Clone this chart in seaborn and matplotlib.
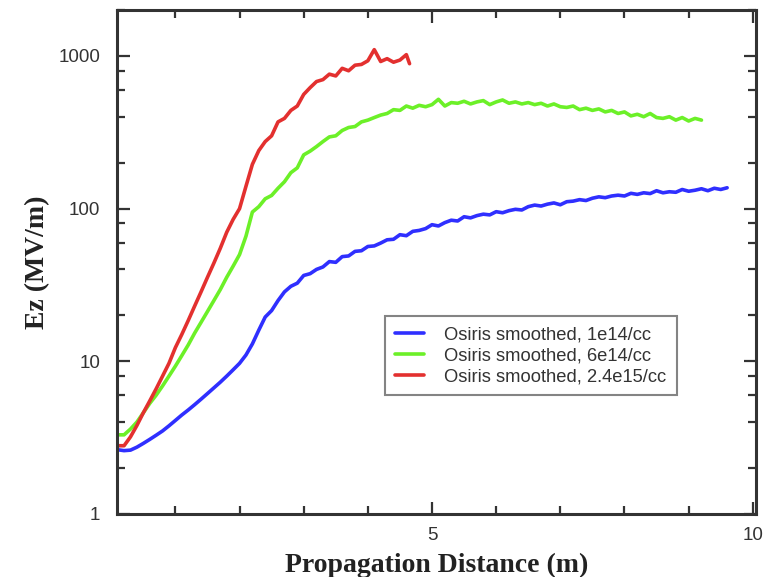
import numpy as np
import pandas as pd
import matplotlib
matplotlib.use("Agg")
import matplotlib.pyplot as plt
import seaborn as sns
from matplotlib.ticker import FixedLocator, FixedFormatter, NullFormatter

# ---------------- data ----------------
labels = ["Osiris smoothed, 1e14/cc", "Osiris smoothed, 6e14/cc", "Osiris smoothed, 2.4e15/cc"]
colors = ["#2f2fff", "#6cf028", "#e3302f"]

blue_x = [0.09, 0.2, 0.3, 0.4, 0.5, 0.6, 0.7, 0.8, 0.9, 1.0, 1.1, 1.2, 1.3, 1.4, 1.5, 1.6, 1.7, 1.8, 1.9, 2.0,
          2.1, 2.2, 2.3, 2.4, 2.5, 2.6, 2.7, 2.8, 2.9, 3.0, 3.1, 3.2, 3.3, 3.4, 3.5, 3.6, 3.7, 3.8, 3.9, 4.0,
          4.1, 4.2, 4.3, 4.4, 4.5, 4.6, 4.7, 4.8, 4.9, 5.0, 5.1, 5.2, 5.3, 5.4, 5.5, 5.6, 5.7, 5.8, 5.9, 6.0,
          6.1, 6.2, 6.3, 6.4, 6.5, 6.6, 6.7, 6.8, 6.9, 7.0, 7.1, 7.2, 7.3, 7.4, 7.5, 7.6, 7.7, 7.8, 7.9, 8.0,
          8.1, 8.2, 8.3, 8.4, 8.5, 8.6, 8.7, 8.8, 8.9, 9.0, 9.1, 9.2, 9.3, 9.4, 9.5, 9.6]
blue_y = [2.64, 2.6, 2.62, 2.74, 2.9, 3.08, 3.28, 3.5, 3.78, 4.1, 4.45, 4.8, 5.2, 5.65, 6.15, 6.7, 7.3, 8.0, 8.8, 9.7,
          11.0, 13.0, 16.0, 19.5, 21.5, 25.0, 28.5, 31.0, 32.5, 36.5, 37.5, 40.0, 41.5, 45.0, 44.5, 48.5, 49.0, 52.5, 53.0, 56.5,
          57.0, 59.5, 62.5, 63.0, 67.5, 66.5, 71.0, 72.0, 74.0, 78.5, 77.0, 81.0, 84.0, 83.0, 88.5, 87.0, 90.0, 92.0, 91.0, 95.5,
          94.0, 97.0, 99.0, 98.0, 103.0, 105.5, 104.0, 107.0, 109.0, 106.0, 111.0, 112.0, 114.5, 113.0, 117.0, 119.5, 118.0, 121.0, 122.5, 121.0,
          126.0, 124.0, 127.0, 125.5, 131.0, 127.0, 129.0, 128.0, 133.5, 130.0, 132.0, 135.0, 131.0, 136.0, 133.5, 137.0]

green_x = [0.09, 0.2, 0.3, 0.4, 0.5, 0.6, 0.7, 0.8, 0.9, 1.0, 1.1, 1.2, 1.3, 1.4, 1.5, 1.6, 1.7, 1.8, 1.9, 2.0,
           2.1, 2.2, 2.3, 2.4, 2.5, 2.6, 2.7, 2.8, 2.9, 3.0, 3.1, 3.2, 3.3, 3.4, 3.5, 3.6, 3.7, 3.8, 3.9, 4.0,
           4.1, 4.2, 4.3, 4.4, 4.5, 4.6, 4.7, 4.8, 4.9, 5.0, 5.1, 5.2, 5.3, 5.4, 5.5, 5.6, 5.7, 5.8, 5.9, 6.0,
           6.1, 6.2, 6.3, 6.4, 6.5, 6.6, 6.7, 6.8, 6.9, 7.0, 7.1, 7.2, 7.3, 7.4, 7.5, 7.6, 7.7, 7.8, 7.9, 8.0,
           8.1, 8.2, 8.3, 8.4, 8.5, 8.6, 8.7, 8.8, 8.9, 9.0, 9.1, 9.2]
green_y = [3.3, 3.3, 3.6, 4.0, 4.6, 5.3, 6.0, 6.9, 8.0, 9.3, 10.9, 12.8, 15.3, 18.0, 21.2, 25.0, 29.5, 35.5, 42.0, 50.0,
           66.0, 95.0, 103.0, 116.0, 122.0, 136.0, 150.0, 172.0, 185.0, 225.0, 238.0, 255.0, 275.0, 295.0, 300.0, 325.0, 340.0, 345.0, 370.0, 380.0,
           395.0, 410.0, 420.0, 445.0, 440.0, 470.0, 455.0, 475.0, 465.0, 480.0, 520.0, 470.0, 495.0, 490.0, 505.0, 485.0, 500.0, 510.0, 480.0, 500.0,
           515.0, 490.0, 500.0, 485.0, 495.0, 480.0, 490.0, 470.0, 485.0, 465.0, 460.0, 470.0, 445.0, 455.0, 440.0, 450.0, 430.0, 440.0, 420.0, 430.0,
           405.0, 415.0, 400.0, 420.0, 395.0, 390.0, 400.0, 380.0, 395.0, 375.0, 390.0, 380.0]

red_x = [0.09, 0.2, 0.3, 0.4, 0.5, 0.6, 0.7, 0.8, 0.9, 1.0, 1.1, 1.2, 1.3, 1.4, 1.5, 1.6, 1.7, 1.8, 1.9, 2.0,
         2.1, 2.2, 2.3, 2.4, 2.5, 2.6, 2.7, 2.8, 2.9, 3.0, 3.1, 3.2, 3.3, 3.4, 3.5, 3.6, 3.7, 3.8, 3.9, 4.0,
         4.1, 4.2, 4.3, 4.4, 4.5, 4.6, 4.65]
red_y = [2.8, 2.8, 3.2, 3.8, 4.6, 5.5, 6.6, 8.0, 9.7, 12.3, 15.0, 18.5, 23.0, 28.5, 35.5, 44.0, 55.0, 70.0, 85.0, 100.0,
         140.0, 195.0, 240.0, 275.0, 300.0, 370.0, 390.0, 440.0, 470.0, 560.0, 620.0, 680.0, 700.0, 760.0, 740.0, 830.0, 800.0, 870.0, 880.0, 930.0,
         1100.0, 920.0, 960.0, 910.0, 940.0, 1020.0, 890.0]

x_major = [5, 10]
x_minor = [1, 2, 3, 4, 6, 7, 8, 9]
y_major = [1, 10, 100, 1000]
y_major_labels = ["1", "10", "100", "1000"]
y_minor = [m * d for d in (1, 10, 100, 1000) for m in (2, 4, 6, 8)]

# ---------------- build table ----------------
df = pd.concat([
    pd.DataFrame({"x": blue_x, "y": blue_y, "series": labels[0]}),
    pd.DataFrame({"x": green_x, "y": green_y, "series": labels[1]}),
    pd.DataFrame({"x": red_x, "y": red_y, "series": labels[2]}),
], ignore_index=True)

sns.set_style("ticks")
plt.rcParams["font.family"] = ["Liberation Sans", "DejaVu Sans"]

fig = plt.figure(figsize=(7.69, 5.77), dpi=100)
ax = fig.add_axes([117 / 769, 63 / 577, 639 / 769, 504 / 577])

sns.lineplot(data=df, x="x", y="y", hue="series", hue_order=labels,
             palette=dict(zip(labels, colors)), sort=False, estimator=None,
             linewidth=2.6, ax=ax)

ax.set_yscale("log")
ax.set_xlim(0.09, 10.05)
ax.set_ylim(1, 2000)

ax.xaxis.set_major_locator(FixedLocator(x_major))
ax.xaxis.set_minor_locator(FixedLocator(x_minor))
ax.yaxis.set_major_locator(FixedLocator(y_major))
ax.yaxis.set_major_formatter(FixedFormatter(y_major_labels))
ax.yaxis.set_minor_locator(FixedLocator(y_minor))
ax.yaxis.set_minor_formatter(NullFormatter())

for s in ax.spines.values():
    s.set_linewidth(2.2)
    s.set_color("#333333")

ax.tick_params(which="both", direction="in", top=True, right=True, color="#333333", width=1.6)
ax.tick_params(which="major", length=9, labelsize=13.5, labelcolor="#333333")
ax.tick_params(which="minor", length=5.5)
ax.tick_params(axis="y", which="major", pad=12)
ax.tick_params(axis="x", which="major", pad=9)

ax.set_xlabel("Propagation Distance (m)", family=["Liberation Serif", "DejaVu Serif"],
              fontweight="bold", fontsize=20, color="#222222", labelpad=7)
ax.set_ylabel("Ez (MV/m)", family=["Liberation Serif", "DejaVu Serif"],
              fontweight="bold", fontsize=20, color="#222222", labelpad=6)

leg = ax.legend(loc="upper left", bbox_to_anchor=(0.419, 0.393), frameon=True, fancybox=False,
                fontsize=13.2, handlelength=1.6, handletextpad=1.1, borderpad=0.55,
                labelspacing=0.22, borderaxespad=0.0)
leg.get_frame().set_edgecolor("#666666")
leg.get_frame().set_linewidth(1.5)
for t in leg.get_texts():
    t.set_color("#333333")
for h in leg.get_lines():
    h.set_linewidth(2.6)

fig.savefig("out.png", dpi=100)
